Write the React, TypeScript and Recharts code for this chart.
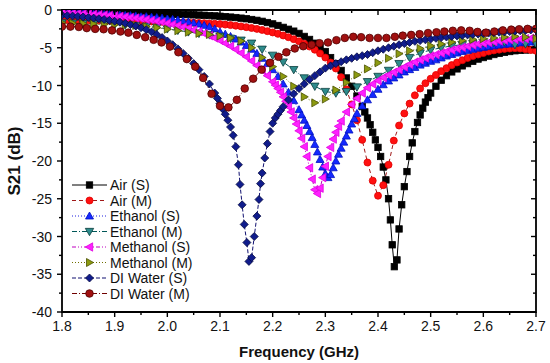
import { LineChart, Line, XAxis, YAxis, ReferenceArea, Label } from 'recharts';

type Pt = [number, number];

// frequency (GHz), S21 (dB)
const airS: Pt[] = [
  [1.8, -0.35], [1.81, -0.35], [1.82, -0.36], [1.83, -0.36], [1.84, -0.37], [1.85, -0.37], [1.86, -0.38], [1.87, -0.38], [1.88, -0.39], [1.89, -0.4],
  [1.9, -0.4], [1.91, -0.41], [1.92, -0.42], [1.93, -0.43], [1.94, -0.44], [1.95, -0.45], [1.96, -0.46], [1.97, -0.47], [1.98, -0.49], [1.99, -0.5],
  [2.0, -0.52], [2.01, -0.54], [2.02, -0.56], [2.03, -0.58], [2.04, -0.61], [2.05, -0.64], [2.06, -0.67], [2.07, -0.7], [2.08, -0.74], [2.09, -0.78],
  [2.1, -0.83], [2.11, -0.88], [2.12, -0.94], [2.13, -1.0], [2.14, -1.08], [2.15, -1.16], [2.16, -1.26], [2.17, -1.37], [2.18, -1.5], [2.19, -1.66],
  [2.2, -1.84], [2.21, -2.05], [2.22, -2.3], [2.23, -2.55], [2.24, -2.8], [2.25, -3.1], [2.26, -3.5], [2.27, -3.9], [2.28, -4.4], [2.29, -4.9],
  [2.3, -5.5], [2.31, -6.3], [2.32, -7.1], [2.33, -8.0], [2.34, -9.0], [2.35, -10.1], [2.36, -11.4], [2.37, -12.8],
  [2.375, -13.5], [2.38, -14.3], [2.385, -15.2], [2.39, -16.2], [2.395, -17.2], [2.4, -18.2], [2.405, -19.4], [2.41, -20.8], [2.415, -22.5],
  [2.42, -25.0], [2.4235, -27.8], [2.427, -31.1], [2.431, -34.0], [2.436, -33.1], [2.44, -29.0], [2.445, -25.8], [2.45, -23.4], [2.455, -21.4], [2.46, -19.4],
  [2.465, -17.6], [2.47, -16.1], [2.475, -14.9], [2.48, -13.9], [2.485, -13.0], [2.49, -12.2], [2.495, -11.6],
  [2.5, -11.0], [2.51, -10.1], [2.52, -9.3], [2.53, -8.7], [2.54, -8.2], [2.55, -7.8], [2.56, -7.4], [2.57, -7.1], [2.58, -6.8], [2.59, -6.5],
  [2.6, -6.3], [2.61, -6.1], [2.62, -5.9], [2.63, -5.75], [2.64, -5.6], [2.65, -5.5], [2.66, -5.4], [2.67, -5.35], [2.68, -5.3], [2.69, -5.25], [2.7, -5.2],
];

const airM: Pt[] = [
  [1.8, -1.3], [1.81, -1.31], [1.82, -1.32], [1.83, -1.33], [1.84, -1.34], [1.85, -1.35], [1.86, -1.36], [1.87, -1.37], [1.88, -1.38], [1.89, -1.4],
  [1.9, -1.41], [1.91, -1.42], [1.92, -1.44], [1.93, -1.45], [1.94, -1.47], [1.95, -1.49], [1.96, -1.5], [1.97, -1.52], [1.98, -1.54], [1.99, -1.56],
  [2.0, -1.58], [2.01, -1.6], [2.02, -1.62], [2.03, -1.64], [2.04, -1.66], [2.05, -1.68], [2.06, -1.71], [2.07, -1.74], [2.08, -1.78], [2.09, -1.82],
  [2.1, -1.87], [2.11, -1.93], [2.12, -2.0], [2.13, -2.08], [2.14, -2.17], [2.15, -2.27], [2.16, -2.38], [2.17, -2.5], [2.18, -2.64], [2.19, -2.8],
  [2.2, -2.97], [2.21, -3.16], [2.22, -3.37], [2.23, -3.6], [2.24, -3.86], [2.25, -4.15], [2.26, -4.47], [2.27, -4.84], [2.28, -5.26], [2.29, -5.75],
  [2.3, -6.3], [2.31, -6.95], [2.32, -7.75], [2.33, -8.9], [2.34, -10.5], [2.35, -12.5], [2.36, -14.6], [2.37, -17.2], [2.38, -20.2], [2.39, -22.6],
  [2.4, -24.6], [2.41, -23.2], [2.42, -20.5], [2.43, -17.3], [2.44, -15.3], [2.45, -13.7], [2.46, -12.4], [2.47, -11.3], [2.48, -10.4], [2.49, -9.7],
  [2.5, -9.1], [2.51, -8.6], [2.52, -8.1], [2.53, -7.7], [2.54, -7.3], [2.55, -6.95], [2.56, -6.65], [2.57, -6.35], [2.58, -6.1], [2.59, -5.9],
  [2.6, -5.7], [2.61, -5.5], [2.62, -5.35], [2.63, -5.25], [2.64, -5.15], [2.65, -5.1], [2.66, -5.05], [2.67, -5.1], [2.68, -5.2], [2.69, -5.3], [2.7, -5.4],
];

const ethanolS: Pt[] = [
  [1.8, -0.45], [1.81, -0.46], [1.82, -0.47], [1.83, -0.49], [1.84, -0.5], [1.85, -0.52], [1.86, -0.54], [1.87, -0.56], [1.88, -0.58], [1.89, -0.61],
  [1.9, -0.64], [1.91, -0.67], [1.92, -0.7], [1.93, -0.74], [1.94, -0.78], [1.95, -0.83], [1.96, -0.88], [1.97, -0.94], [1.98, -1.0], [1.99, -1.07],
  [2.0, -1.15], [2.01, -1.24], [2.02, -1.34], [2.03, -1.45], [2.04, -1.57], [2.05, -1.71], [2.06, -1.86], [2.07, -2.03], [2.08, -2.22], [2.09, -2.5],
  [2.1, -2.9], [2.11, -3.2], [2.12, -3.5], [2.13, -3.85], [2.14, -4.25], [2.15, -4.7], [2.16, -5.2], [2.17, -5.75], [2.18, -6.4], [2.19, -7.1],
  [2.2, -7.9], [2.21, -8.8], [2.22, -9.8], [2.23, -10.9], [2.24, -12.0], [2.25, -13.2],
  [2.255, -13.9], [2.26, -14.6], [2.265, -15.3], [2.27, -16.1], [2.275, -16.9], [2.28, -17.8], [2.285, -18.8], [2.29, -19.8], [2.295, -20.8],
  [2.3, -21.7], [2.305, -22.2], [2.31, -21.8], [2.315, -20.9], [2.32, -20.0], [2.325, -19.1], [2.33, -18.3], [2.335, -17.5], [2.34, -16.7],
  [2.345, -15.9], [2.35, -15.1], [2.355, -14.4], [2.36, -13.7],
  [2.37, -12.7], [2.38, -11.9], [2.39, -11.2], [2.4, -10.5], [2.41, -9.9], [2.42, -9.4], [2.43, -9.0], [2.44, -8.6], [2.45, -8.2], [2.46, -7.9],
  [2.47, -7.6], [2.48, -7.3], [2.49, -7.05], [2.5, -6.8], [2.51, -6.6], [2.52, -6.35], [2.53, -6.1], [2.54, -5.9], [2.55, -5.7], [2.56, -5.5],
  [2.57, -5.35], [2.58, -5.2], [2.59, -5.05], [2.6, -4.95], [2.61, -4.85], [2.62, -4.75], [2.63, -4.65], [2.64, -4.55], [2.65, -4.5], [2.66, -4.4],
  [2.67, -4.35], [2.68, -4.3], [2.69, -4.25], [2.7, -4.2],
];

const ethanolM: Pt[] = [
  [1.8, -1.7], [1.82, -1.75], [1.84, -1.8], [1.86, -1.85], [1.88, -1.9], [1.9, -1.95], [1.92, -2.0], [1.94, -2.05], [1.96, -2.15], [1.98, -2.3],
  [2.0, -2.5], [2.02, -2.7], [2.04, -2.9], [2.06, -3.1], [2.08, -3.3], [2.1, -3.5], [2.12, -3.75], [2.14, -4.0], [2.16, -4.4], [2.18, -5.2],
  [2.2, -6.0], [2.22, -6.9], [2.24, -7.9], [2.26, -9.0], [2.28, -10.1], [2.3, -10.8], [2.32, -11.0], [2.34, -10.8], [2.36, -10.2], [2.38, -9.5],
  [2.4, -8.8], [2.42, -8.0], [2.44, -7.1], [2.46, -6.3], [2.48, -5.7], [2.5, -5.3], [2.52, -5.0], [2.54, -4.75], [2.56, -4.6], [2.58, -4.45],
  [2.6, -4.35], [2.62, -4.3], [2.64, -4.25], [2.66, -4.6], [2.68, -4.5], [2.7, -4.5],
];

const methanolS: Pt[] = [
  [1.8, -0.4], [1.81, -0.42], [1.82, -0.44], [1.83, -0.47], [1.84, -0.5], [1.85, -0.53], [1.86, -0.57], [1.87, -0.61], [1.88, -0.66], [1.89, -0.71],
  [1.9, -0.77], [1.91, -0.83], [1.92, -0.9], [1.93, -0.98], [1.94, -1.06], [1.95, -1.15], [1.96, -1.25], [1.97, -1.36], [1.98, -1.48], [1.99, -1.61],
  [2.0, -1.75], [2.01, -1.9], [2.02, -2.06], [2.03, -2.24], [2.04, -2.43], [2.05, -2.64], [2.06, -2.87], [2.07, -3.12], [2.08, -3.4], [2.09, -3.7],
  [2.1, -4.03], [2.11, -4.4], [2.12, -4.8], [2.13, -5.23], [2.14, -5.7], [2.15, -6.2], [2.16, -6.75], [2.17, -7.35], [2.18, -8.0], [2.19, -8.7],
  [2.2, -9.5], [2.205, -9.95], [2.21, -10.4], [2.215, -10.9], [2.22, -11.5], [2.225, -12.1], [2.23, -12.8], [2.235, -13.5], [2.24, -14.3],
  [2.245, -15.1], [2.25, -16.0], [2.255, -17.0], [2.26, -18.1], [2.265, -19.4], [2.27, -20.9], [2.275, -22.4], [2.28, -23.8], [2.285, -24.3],
  [2.29, -23.6], [2.295, -22.2], [2.3, -20.7], [2.305, -19.4], [2.31, -18.2], [2.315, -17.1], [2.32, -16.2], [2.325, -15.4], [2.33, -14.7],
  [2.34, -13.5], [2.35, -12.5], [2.36, -11.7], [2.37, -11.0], [2.38, -10.3], [2.39, -9.8], [2.4, -9.35], [2.41, -8.95], [2.42, -8.6], [2.43, -8.25],
  [2.44, -7.9], [2.45, -7.55], [2.46, -7.2], [2.47, -6.9], [2.48, -6.6], [2.49, -6.35], [2.5, -6.1], [2.51, -5.9], [2.52, -5.7], [2.53, -5.5],
  [2.54, -5.3], [2.55, -5.1], [2.56, -4.95], [2.57, -4.8], [2.58, -4.65], [2.59, -4.5], [2.6, -4.4], [2.61, -4.3], [2.62, -4.2], [2.63, -4.1],
  [2.64, -4.0], [2.65, -3.95], [2.66, -3.9], [2.67, -3.85], [2.68, -3.8], [2.69, -3.75], [2.7, -3.7],
];

const methanolM: Pt[] = [
  [1.8, -1.7], [1.82, -1.75], [1.84, -1.8], [1.86, -1.85], [1.88, -1.9], [1.9, -1.95], [1.92, -2.0], [1.94, -2.05], [1.96, -2.2], [1.98, -2.35],
  [2.0, -2.55], [2.02, -2.75], [2.04, -2.95], [2.06, -3.1], [2.08, -3.25], [2.1, -3.45], [2.12, -3.7], [2.14, -4.1], [2.16, -5.0], [2.18, -6.3],
  [2.2, -7.5], [2.22, -8.8], [2.24, -10.1], [2.26, -11.5], [2.28, -12.3], [2.3, -11.8], [2.32, -10.6], [2.34, -9.6], [2.36, -8.6], [2.38, -7.8],
  [2.4, -7.0], [2.42, -6.4], [2.44, -5.8], [2.46, -5.4], [2.48, -5.1], [2.5, -4.75], [2.52, -4.5], [2.54, -4.25], [2.56, -4.05], [2.58, -3.9],
  [2.6, -3.8], [2.62, -3.7], [2.64, -3.6], [2.66, -3.5], [2.68, -3.6], [2.7, -3.8],
];

const diWaterS: Pt[] = [
  [1.8, -0.7], [1.81, -0.75], [1.82, -0.8], [1.83, -0.86], [1.84, -0.92], [1.85, -0.99], [1.86, -1.07], [1.87, -1.16], [1.88, -1.26], [1.89, -1.37],
  [1.9, -1.49], [1.91, -1.62], [1.92, -1.77], [1.93, -1.94], [1.94, -2.13], [1.95, -2.35], [1.96, -2.6], [1.97, -2.9], [1.98, -3.25], [1.99, -3.65],
  [2.0, -4.1], [2.01, -4.6], [2.02, -5.15], [2.03, -5.75], [2.04, -6.4], [2.05, -7.1], [2.06, -7.9], [2.07, -8.8], [2.08, -9.8], [2.09, -11.0],
  [2.095, -11.7], [2.1, -12.4], [2.105, -13.1], [2.11, -13.8], [2.115, -14.6], [2.12, -15.5], [2.125, -16.6], [2.13, -18.1], [2.135, -20.5],
  [2.138, -23.1], [2.142, -25.8], [2.146, -28.4], [2.151, -30.8], [2.155, -33.3], [2.16, -32.8], [2.165, -30.0], [2.17, -27.3], [2.174, -25.1],
  [2.177, -23.0], [2.18, -21.6], [2.185, -19.6], [2.19, -17.7], [2.195, -16.1], [2.2, -15.0], [2.205, -14.3], [2.21, -13.8], [2.215, -13.3], [2.22, -12.8],
  [2.23, -11.9], [2.24, -11.1], [2.25, -10.4], [2.26, -9.8], [2.27, -9.2], [2.28, -8.7], [2.29, -8.2], [2.3, -7.7], [2.31, -7.4], [2.32, -7.1],
  [2.33, -6.85], [2.34, -6.6], [2.35, -6.4], [2.36, -6.2], [2.37, -6.05], [2.38, -5.9], [2.39, -5.65], [2.4, -5.4], [2.41, -5.2], [2.42, -5.0],
  [2.43, -4.8], [2.44, -4.6], [2.45, -4.45], [2.46, -4.3], [2.47, -4.15], [2.48, -4.05], [2.49, -3.95], [2.5, -3.85], [2.51, -3.75], [2.52, -3.65],
  [2.53, -3.58], [2.54, -3.5], [2.55, -3.43], [2.56, -3.37], [2.57, -3.3], [2.58, -3.24], [2.59, -3.18], [2.6, -3.12], [2.61, -3.06], [2.62, -3.0],
  [2.63, -2.95], [2.64, -2.9], [2.65, -2.85], [2.66, -2.8], [2.67, -2.75], [2.68, -2.7], [2.69, -2.65], [2.7, -2.6],
];

const diWaterM: Pt[] = [
  [1.8, -2.2], [1.816, -2.2], [1.832, -2.25], [1.847, -2.4], [1.863, -2.5], [1.879, -2.55], [1.895, -2.7], [1.911, -2.85], [1.926, -3.0], [1.942, -3.3],
  [1.958, -3.6], [1.974, -3.95], [1.989, -4.3], [2.005, -4.85], [2.021, -5.6], [2.037, -6.5], [2.053, -7.5], [2.068, -9.0], [2.084, -11.1], [2.1, -12.7],
  [2.116, -12.9], [2.132, -11.9], [2.147, -10.4], [2.163, -9.1], [2.179, -7.9], [2.195, -7.0], [2.211, -6.2], [2.226, -5.6], [2.242, -5.1], [2.258, -4.8],
  [2.274, -4.6], [2.289, -4.4], [2.305, -4.3], [2.321, -4.0], [2.337, -3.7], [2.353, -3.55], [2.368, -3.6], [2.384, -3.7], [2.4, -3.7], [2.416, -3.7],
  [2.432, -3.55], [2.447, -3.4], [2.463, -3.3], [2.479, -3.2], [2.495, -3.05], [2.511, -2.95], [2.526, -2.85], [2.542, -2.75], [2.558, -2.7], [2.574, -2.75],
  [2.589, -2.9], [2.605, -3.0], [2.621, -2.85], [2.637, -2.7], [2.653, -2.6], [2.668, -2.55], [2.684, -2.5], [2.7, -2.5],
];

const xTicks = [1.8, 1.85, 1.9, 1.95, 2.0, 2.05, 2.1, 2.15, 2.2, 2.25, 2.3, 2.35, 2.4, 2.45, 2.5, 2.55, 2.6, 2.65, 2.7];
const yTicks = [-40, -37.5, -35, -32.5, -30, -27.5, -25, -22.5, -20, -17.5, -15, -12.5, -10, -7.5, -5, -2.5, 0];

const FONT = 'Arial, "Liberation Sans", sans-serif';
const PLOT = { left: 62, right: 536, top: 10, bottom: 312 };

type Shape = 'square' | 'circle' | 'up' | 'down' | 'left' | 'right' | 'diamond';

interface SeriesDef {
  name: string;
  data: Pt[];
  line: string;
  dash?: string;
  shape: Shape;
  size: number;
  fill: string;
  edge: string;
}

const series: SeriesDef[] = [
  { name: 'Air (S)', data: airS, line: '#000000', shape: 'square', size: 3.2, fill: '#000000', edge: '#000000' },
  { name: 'Air (M)', data: airM, line: '#a01818', dash: '4 3', shape: 'circle', size: 3.5, fill: '#ff1010', edge: '#e00000' },
  { name: 'Ethanol (S)', data: ethanolS, line: '#2020e0', dash: '1 2', shape: 'up', size: 4, fill: '#1428ff', edge: '#0010c0' },
  { name: 'Ethanol (M)', data: ethanolM, line: '#005858', dash: '5 2 1 2', shape: 'down', size: 4.2, fill: '#2e8c8c', edge: '#0a3c3c' },
  { name: 'Methanol (S)', data: methanolS, line: '#c000c0', dash: '4 2 1 2 1 2', shape: 'left', size: 4.2, fill: '#ff20ff', edge: '#e000e0' },
  { name: 'Methanol (M)', data: methanolM, line: '#707000', dash: '1 2', shape: 'right', size: 4, fill: '#8c9a10', edge: '#4a5000' },
  { name: 'DI Water (S)', data: diWaterS, line: '#101070', dash: '4 2', shape: 'diamond', size: 4, fill: '#101c8c', edge: '#050a40' },
  { name: 'DI Water (M)', data: diWaterM, line: '#700000', dash: '5 2 1 2', shape: 'circle', size: 3.8, fill: '#a01010', edge: '#500000' },
];

function Marker({ shape, cx, cy, r, fill, edge }: { shape: Shape; cx: number; cy: number; r: number; fill: string; edge: string }) {
  const common = { fill, stroke: edge, strokeWidth: 0.8 };
  switch (shape) {
    case 'square':
      return <rect x={cx - r} y={cy - r} width={2 * r} height={2 * r} {...common} />;
    case 'circle':
      return <circle cx={cx} cy={cy} r={r} {...common} />;
    case 'up':
      return <polygon points={`${cx},${cy - r} ${cx + r},${cy + r * 0.75} ${cx - r},${cy + r * 0.75}`} {...common} />;
    case 'down':
      return <polygon points={`${cx},${cy + r} ${cx + r},${cy - r * 0.75} ${cx - r},${cy - r * 0.75}`} {...common} />;
    case 'left':
      return <polygon points={`${cx - r},${cy} ${cx + r * 0.75},${cy - r} ${cx + r * 0.75},${cy + r}`} {...common} />;
    case 'right':
      return <polygon points={`${cx + r},${cy} ${cx - r * 0.75},${cy - r} ${cx - r * 0.75},${cy + r}`} {...common} />;
    default:
      return <polygon points={`${cx},${cy - r} ${cx + r},${cy} ${cx},${cy + r} ${cx - r},${cy}`} {...common} />;
  }
}

function XTick(props: any) {
  const { x, payload } = props;
  const v = payload.value as number;
  const major = Math.abs(v * 10 - Math.round(v * 10)) < 1e-6;
  const len = major ? 5 : 3;
  return (
    <g>
      <line x1={x} x2={x} y1={PLOT.bottom} y2={PLOT.bottom + len} stroke="#000" strokeWidth={1.4} />
      <line x1={x} x2={x} y1={PLOT.top} y2={PLOT.top + len} stroke="#000" strokeWidth={1.4} />
      {major && (
        <text x={x} y={PLOT.bottom + 19} textAnchor="middle" fontFamily={FONT} fontSize={14} fill="#111">
          {v.toFixed(1)}
        </text>
      )}
    </g>
  );
}

function YTick(props: any) {
  const { y, payload } = props;
  const v = payload.value as number;
  const major = v % 5 === 0;
  const len = major ? 5 : 3;
  return (
    <g>
      <line x1={PLOT.left - len} x2={PLOT.left} y1={y} y2={y} stroke="#000" strokeWidth={1.4} />
      <line x1={PLOT.right - len} x2={PLOT.right} y1={y} y2={y} stroke="#000" strokeWidth={1.4} />
      {major && (
        <text x={PLOT.left - 10} y={y + 5} textAnchor="end" fontFamily={FONT} fontSize={14} fill="#111">
          {v}
        </text>
      )}
    </g>
  );
}

function LegendBox() {
  const rowY = [185, 200.5, 216, 231.5, 247, 262.5, 278, 293.5];
  return (
    <svg width={550} height={363} style={{ position: 'absolute', left: 0, top: 0, pointerEvents: 'none' }}>
      {series.map((s, i) => (
        <g key={s.name}>
          <line x1={72} x2={107} y1={rowY[i]} y2={rowY[i]} stroke={s.line} strokeWidth={1} strokeDasharray={s.dash} />
          <Marker shape={s.shape} cx={89.5} cy={rowY[i]} r={s.size} fill={s.fill} edge={s.edge} />
          <text x={110} y={rowY[i] + 5} fontFamily={FONT} fontSize={14} fill="#111">
            {s.name}
          </text>
        </g>
      ))}
    </svg>
  );
}

export default function App() {
  return (
    <div style={{ position: 'absolute', left: 0, top: 0, width: 550, height: 363, background: '#fff' }}>
      <LineChart width={550} height={363} margin={{ top: 10, right: 14, bottom: 0, left: 0 }}>
        <XAxis
          dataKey="f"
          type="number"
          domain={[1.8, 2.7]}
          ticks={xTicks}
          interval={0}
          allowDataOverflow
          tick={<XTick />}
          tickLine={false}
          axisLine={false}
          height={51}
        >
          <Label
            value="Frequency (GHz)"
            position="insideBottom"
            offset={6}
            style={{ fontFamily: FONT, fontSize: 15, fontWeight: 700, fill: '#111' }}
          />
        </XAxis>
        <YAxis
          type="number"
          domain={[-40, 0]}
          ticks={yTicks}
          interval={0}
          allowDataOverflow
          tick={<YTick />}
          tickLine={false}
          axisLine={false}
          width={62}
        >
          <Label
            value="S21 (dB)"
            angle={-90}
            position="insideLeft"
            offset={14}
            style={{ fontFamily: FONT, fontSize: 17, fontWeight: 700, fill: '#111', textAnchor: 'middle' }}
          />
        </YAxis>
        <ReferenceArea x1={1.8} x2={2.7} y1={-40} y2={0} fill="none" fillOpacity={0} stroke="#000" strokeWidth={1.8} />
        {series.map((s) => (
          <Line
            key={s.name}
            data={s.data.map(([f, v]) => ({ f, s: v }))}
            dataKey="s"
            type="linear"
            stroke={s.line}
            strokeWidth={1}
            strokeDasharray={s.dash}
            isAnimationActive={false}
            activeDot={false}
            dot={(p: any) =>
              p.cx == null ? (
                <g key={`${s.name}-${p.index}`} />
              ) : (
                <Marker key={`${s.name}-${p.index}`} shape={s.shape} cx={p.cx} cy={p.cy} r={s.size} fill={s.fill} edge={s.edge} />
              )
            }
          />
        ))}
      </LineChart>
      <LegendBox />
    </div>
  );
}
